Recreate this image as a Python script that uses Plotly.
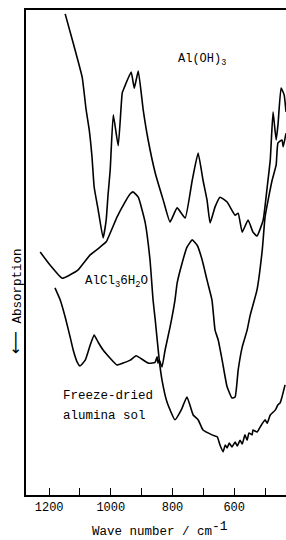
import plotly.graph_objects as go

# Wavenumbers (cm^-1) and relative transmission (a.u., absorption downward)
aloh3_wn = [1148, 1122, 1093, 1080, 1070, 1061, 1054, 1041, 1025, 1015, 1009, 1002, 992, 976, 963, 957,
            934, 924, 911, 895, 879, 856, 830, 808, 785, 759, 736, 717, 701, 688, 678, 662, 646, 623,
            597, 587, 574, 555, 539, 526, 506, 493, 483, 474, 464, 458, 448, 438, 432]
aloh3_t = [99.2, 93.2, 86.2, 79.4, 75.3, 69.7, 63.5, 58.8, 53.0, 56.7, 61.9, 67.0, 78.4, 72.0, 82.9, 83.9,
           87.2, 83.9, 87.4, 79.4, 73.2, 66.4, 60.8, 56.3, 59.2, 57.1, 64.9, 70.5, 64.9, 60.8, 56.1, 59.4,
           61.4, 60.4, 57.7, 58.1, 54.2, 56.7, 54.2, 53.4, 56.7, 63.5, 69.1, 79.0, 73.2, 76.3, 83.9, 82.5, 79.0]

sol_wn = [1229, 1197, 1158, 1132, 1106, 1067, 1035, 1015, 980, 954, 937, 928, 911, 889, 873, 863, 856,
          843, 834, 817, 792, 772, 753, 733, 717, 701, 672, 655, 646, 636, 629, 623, 616, 607, 597, 590,
          581, 574, 565, 558, 552, 542, 539, 526, 516, 500, 493, 483, 467, 458, 451, 445, 435]
sol_t = [50.1, 47.4, 44.7, 45.4, 46.4, 49.5, 51.1, 52.2, 57.3, 60.4, 62.1, 62.5, 61.4, 56.3, 48.5, 40.2, 36.1,
         27.8, 23.7, 19.0, 15.5, 17.5, 20.2, 16.5, 15.5, 13.4, 12.4, 12.0, 10.3, 8.9, 10.3, 9.7, 10.7, 9.9, 10.9, 10.1,
         11.3, 10.5, 12.4, 11.3, 12.8, 12.4, 13.4, 13.0, 14.0, 15.5, 14.8, 16.5, 17.5, 18.6, 19.0, 20.2, 22.7]

alcl3_wn = [1181, 1164, 1148, 1132, 1122, 1109, 1100, 1083, 1067, 1054, 1041, 1025, 1002, 980, 960, 937,
            918, 899, 879, 866, 856, 850, 847, 843, 834, 824, 808, 792, 785, 769, 753, 736, 720, 704, 688,
            672, 662, 652, 639, 623, 607, 597, 587, 574, 558, 548, 526, 509, 500, 490, 477, 464, 458, 445, 441, 432]
alcl3_t = [42.7, 40.2, 36.7, 32.6, 29.9, 27.4, 26.6, 27.8, 30.9, 33.0, 31.5, 29.9, 28.2, 26.8, 27.2, 27.8,
           28.7, 28.0, 27.2, 27.2, 27.4, 28.5, 27.2, 27.8, 26.4, 29.9, 34.6, 40.2, 43.7, 47.8, 51.1, 52.6, 51.5,
           48.5, 44.3, 40.2, 34.0, 32.0, 27.8, 22.3, 20.0, 20.2, 25.8, 30.5, 34.0, 37.1, 42.3, 50.5, 57.3, 60.8,
           64.9, 68.0, 72.6, 73.2, 71.8, 74.6]

tick_vals = [1200, 1100, 1000, 900, 800, 700, 600, 500]
tick_text = ["1200", "", "1000", "", "800", "", "600", ""]

FONT = "Liberation Mono, Courier New, DejaVu Sans Mono, monospace"
line = dict(color="black", width=1.6, shape="spline", smoothing=0.4)

fig = go.Figure()
fig.add_trace(go.Scatter(x=aloh3_wn, y=aloh3_t, mode="lines", line=line, name="Al(OH)3"))
fig.add_trace(go.Scatter(x=alcl3_wn, y=alcl3_t, mode="lines", line=line, name="AlCl3·6H2O"))
fig.add_trace(go.Scatter(x=sol_wn, y=sol_t, mode="lines", line=line, name="Freeze-dried alumina sol"))

fig.update_layout(
    width=286, height=540,
    margin=dict(l=26, r=0, t=10, b=45),
    paper_bgcolor="white", plot_bgcolor="white",
    showlegend=False,
    font=dict(family=FONT, color="black", size=12),
    xaxis=dict(range=[1275, 432], tickvals=tick_vals, ticktext=tick_text,
               ticks="inside", ticklen=7, tickwidth=1.2, tickcolor="black",
               showline=True, linecolor="black", linewidth=1.5, mirror=True,
               showgrid=False, zeroline=False, tickfont=dict(size=12, family=FONT)),
    yaxis=dict(range=[0, 100], showticklabels=False, ticks="",
               showline=True, linecolor="black", linewidth=1.5,
               showgrid=False, zeroline=False),
)

ann = [
    dict(x=788, y=89.7, text="Al(OH)<sub>3</sub>", size=12),
    dict(x=1090, y=43.9, text="AlCl<sub>3</sub>6H<sub>2</sub>O", size=12.5),
    dict(x=1161, y=20.4, text="Freeze-dried", size=12.5),
    dict(x=1161, y=16.3, text="alumina sol", size=12.5),
]
for a in ann:
    fig.add_annotation(x=a["x"], y=a["y"], xref="x", yref="y", text=a["text"], showarrow=False,
                       xanchor="left", yanchor="middle",
                       font=dict(family=FONT, size=a["size"], color="black"))

# axis labels placed in paper coordinates (plot area: x 26..286 px, y 10..495 px)
fig.add_annotation(x=(160 - 26) / 260, y=(495 - 529) / 485, xref="paper", yref="paper",
                   text="Wave number / cm<sup><span style='font-size:13px'>-1</span></sup>", showarrow=False,
                   xanchor="center", yanchor="middle",
                   font=dict(family=FONT, size=12.5, color="black"))
fig.add_annotation(x=(15 - 26) / 260, y=(495 - 302) / 485, xref="paper", yref="paper",
                   text="<span style='font-family:DejaVu Sans;font-size:16px;color:black'>⟵</span> Absorption",
                   textangle=-90, showarrow=False,
                   xanchor="center", yanchor="middle",
                   font=dict(family=FONT, size=12.5, color="black"))

fig.write_html("out.html", config={"displayModeBar": False},
               post_script="document.body.style.margin='0';document.body.style.overflow='hidden';")
